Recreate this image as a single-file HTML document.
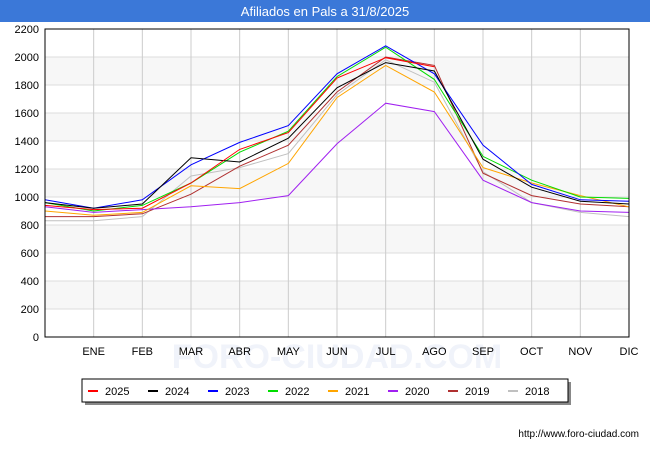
<!DOCTYPE html>
<html><head><meta charset="utf-8"><style>
body{margin:0;background:#fff;font-family:"Liberation Sans",sans-serif}
</style></head><body>
<svg width="650" height="450" xmlns="http://www.w3.org/2000/svg" font-family="Liberation Sans, sans-serif">
<rect x="0" y="0" width="650" height="22" fill="#3b78d8"/>
<text x="325" y="16" text-anchor="middle" fill="#fff" font-size="13">Afiliados en Pals a 31/8/2025</text>
<g id="plot"></g>
<g id="legend"></g>
<text x="639" y="437" text-anchor="end" font-size="10" fill="#000">http://www.foro-ciudad.com</text>
</svg>
<script>
const months=["","ENE","FEB","MAR","ABR","MAY","JUN","JUL","AGO","SEP","OCT","NOV","DIC"];
const yTicks=[0,200,400,600,800,1000,1200,1400,1600,1800,2000,2200];
const seriesNames=["2025","2024","2023","2022","2021","2020","2019","2018"];
const seriesColors=["#ff0000","#000000","#0000ff","#00dd00","#ffa500","#a020f0","#b03030","#c0c0c0"];
const s2025=[940,910,920,1100,1340,1460,1850,1995,1930];
const s2024=[960,920,950,1280,1250,1420,1780,1960,1900,1270,1070,970,950];
const s2023=[980,920,980,1230,1390,1510,1880,2080,1880,1370,1090,980,970];
const s2022=[960,900,940,1100,1320,1470,1860,2070,1840,1290,1120,1000,990];
const s2021=[900,870,890,1080,1060,1240,1710,1940,1750,1210,1100,1010,930];
const s2020=[930,890,910,930,960,1010,1380,1670,1610,1120,960,900,890];
const s2019=[860,860,880,1020,1220,1370,1750,2000,1940,1170,1010,950,930];
const s2018=[830,830,860,1150,1210,1310,1730,1980,1820,1180,960,890,860];
const allSeries=[s2025,s2024,s2023,s2022,s2021,s2020,s2019,s2018];
const NS="http://www.w3.org/2000/svg";
const L=45,R=629,T=29,B=337,maxV=2200;
const xs=i=>L+(R-L)*i/12;
const ys=v=>B-(B-T)*v/maxV;
const plot=document.getElementById('plot');
function mk(tag,at,parent){const e=document.createElementNS(NS,tag);for(const k in at)e.setAttribute(k,at[k]);(parent||plot).appendChild(e);return e;}
for(let i=0;i<yTicks.length-1;i++){if(i%2===1){const r=mk('rect',{x:L,y:ys(yTicks[i+1]),width:R-L,height:ys(yTicks[i])-ys(yTicks[i+1]),fill:'#f7f7f7'});

}}
const wm=mk('text',{x:337,y:368,'text-anchor':'middle','font-size':'34',fill:'#f0f3fa','font-weight':'bold'});wm.textContent='FORO-CIUDAD.COM';


yTicks.forEach(v=>{const l=mk('line',{x1:L,x2:R,y1:ys(v),y2:ys(v),stroke:'#dddddd'});


const t=mk('text',{x:L-6,y:ys(v)+4,'text-anchor':'end','font-size':'11',fill:'#000'});t.textContent=v;

});
months.forEach((m,i)=>{if(i===0)return;const l=mk('line',{x1:xs(i),x2:xs(i),y1:T,y2:B,stroke:'#cccccc'});


const t=mk('text',{x:xs(i),y:B+18,'text-anchor':'middle','font-size':'11',fill:'#000'});t.textContent=m;

});
for(let k=allSeries.length-1;k>=0;k--){const d=allSeries[k];const pts=d.map((v,i)=>xs(i)+','+ys(v)).join(' ');
const p=mk('polyline',{points:pts,fill:'none',stroke:seriesColors[k],'stroke-width':'1'});

}
const fr=mk('rect',{x:L,y:T,width:R-L,height:B-T,fill:'none',stroke:'#000'});


const lg=document.getElementById('legend');
const sh=mk('rect',{x:85,y:382,width:486,height:23,fill:'#888'},lg);


const lb=mk('rect',{x:82,y:379,width:486,height:23,fill:'#fff',stroke:'#000'},lg);


seriesNames.forEach((n,k)=>{const x0=88+k*60;
const ln=mk('line',{x1:x0,x2:x0+10,y1:391,y2:391,stroke:seriesColors[k],'stroke-width':'2'},lg);


const t=mk('text',{x:x0+17,y:395,'font-size':'11',fill:'#000'},lg);t.textContent=n;

});
</script>
</body></html>
